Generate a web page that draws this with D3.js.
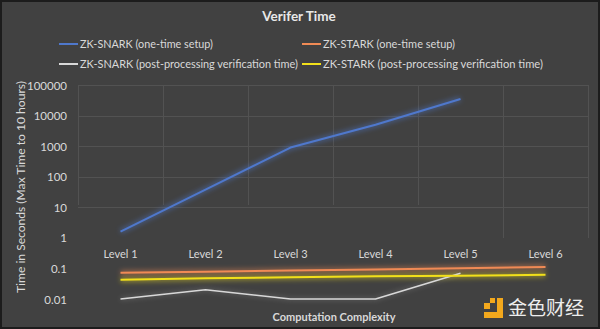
<!DOCTYPE html>
<html><head><meta charset="utf-8">
<script src="https://cdn.jsdelivr.net/npm/d3@7"></script>
<style>body{margin:0;background:#414141;}svg{display:block;}</style>
</head><body>
<script>
const levels = ["Level 1","Level 2","Level 3","Level 4","Level 5","Level 6"];
const snarkSetup = [1.6, 38, 900, 5000, 35000, null];
const starkSetup = [0.072, 0.078, 0.085, 0.093, 0.102, 0.112];
const snarkVerify = [0.01, 0.02, 0.01, 0.01, 0.07, null];
const starkVerify = [0.043, 0.048, 0.051, 0.055, 0.058, 0.062];
const yTicks = [0.01, 0.1, 1, 10, 100, 1000, 10000, 100000];
const seriesNames = ["ZK-SNARK (one-time setup)","ZK-STARK (one-time setup)","ZK-SNARK (post-processing verification time)","ZK-STARK (post-processing verification time)"];
const seriesColors = ["#4f78cc","#f08a55","#d8d8d8","#f2e01a"];
const seriesData = [snarkSetup, starkSetup, snarkVerify, starkVerify];

const W = 600, H = 329;
const svg = d3.select("body").append("svg").attr("width", W).attr("height", H);
const font = "Lato, 'Open Sans', sans-serif";
svg.append("rect").attr("x",1).attr("y",1).attr("width",W-2).attr("height",H-2)
  .attr("fill","#414141").attr("stroke","#1c1c1c").attr("stroke-width",2);

const defs = svg.append("defs");
const glow = defs.append("filter").attr("id","glow").attr("x","-10%").attr("y","-200%").attr("width","120%").attr("height","500%");
glow.append("feGaussianBlur").attr("stdDeviation",2.5);

const x = d3.scaleBand().domain(levels).range([78, 588]);
const y = d3.scaleLog().domain([0.01, 100000]).range([299, 85]);

// gridlines
const grid = svg.append("g").attr("stroke","#5a5a5a").attr("stroke-width",1).attr("opacity",0.7);
grid.selectAll("line.h").data(yTicks.filter(t => t >= 10)).join("line")
  .attr("x1",78).attr("x2",588).attr("y1",d=>Math.round(y(d))+0.5).attr("y2",d=>Math.round(y(d))+0.5);
const bounds = levels.map(l => x(l)).concat([x(levels[levels.length-1]) + x.bandwidth()]);
grid.selectAll("line.v").data(bounds).join("line")
  .attr("x1",d=>Math.round(d)+0.5).attr("x2",d=>Math.round(d)+0.5).attr("y1",85).attr("y2",d=> d>500 ? 238 : 205);

// y axis labels
const yAxis = d3.axisLeft(y).tickValues(yTicks).tickFormat(d => String(d)).tickSize(0).tickPadding(0);
const yg = svg.append("g").attr("transform","translate(67,0)").call(yAxis);
yg.select(".domain").remove();
yg.selectAll("text").attr("fill","#d9d9d9").attr("font-family",font).attr("font-size",11.5).attr("dy","0.35em");

// x axis labels at y=1
const xAxis = d3.axisBottom(x).tickSize(0).tickPadding(0);
const xg = svg.append("g").attr("transform",`translate(0,${y(1)})`).call(xAxis);
xg.select(".domain").remove();
xg.selectAll("text").attr("fill","#d9d9d9").attr("font-family",font).attr("font-size",11).attr("dy","0").attr("y",20);

// lines
const line = d3.line().defined(d => d != null).x((d,i) => x(levels[i]) + x.bandwidth()/2).y(d => y(d));
const order = [2, 3, 1, 0];
order.forEach(i => {
  svg.append("path").datum(seriesData[i]).attr("d", line).attr("fill","none")
    .attr("stroke", seriesColors[i]).attr("stroke-width", i===2 ? 3 : 5).attr("opacity", i===2 ? 0.2 : 0.45).attr("filter","url(#glow)");
});
order.forEach(i => {
  svg.append("path").datum(seriesData[i]).attr("d", line).attr("fill","none")
    .attr("stroke", seriesColors[i]).attr("stroke-width", i===2 ? 1.6 : 2).attr("stroke-linejoin","round");
});

// title
svg.append("text").attr("x",299).attr("y",21).attr("text-anchor","middle").attr("fill","#e8e8e8")
  .attr("font-family",font).attr("font-weight","bold").attr("font-size",13.5).text("Verifer Time");

// legend
const legPos = [[59,44],[302,44],[59,64],[302,64]];
const legWidths = [133, 132, 218, 220];
seriesNames.forEach((n,i) => {
  const [lx, ly] = legPos[i];
  svg.append("line").attr("x1",lx).attr("x2",lx+19).attr("y1",ly).attr("y2",ly).attr("stroke",seriesColors[i]).attr("stroke-width",2);
  svg.append("text").attr("x",lx+21).attr("y",ly).attr("dy","0.35em").attr("fill","#d9d9d9")
    .attr("font-family",font).attr("font-size",11.5)
    .attr("textLength", legWidths[i]).attr("lengthAdjust","spacingAndGlyphs").text(n);
});

// axis titles
svg.append("text").attr("transform","translate(25,187) rotate(-90)").attr("text-anchor","middle").attr("fill","#d9d9d9")
  .attr("font-family",font).attr("font-size",11.5).attr("textLength",212).attr("lengthAdjust","spacingAndGlyphs")
  .text("Time in Seconds (Max Time to 10 hours)");
svg.append("text").attr("x",334).attr("y",321).attr("text-anchor","middle").attr("fill","#d9d9d9")
  .attr("font-family",font).attr("font-weight","bold").attr("font-size",11).text("Computation Complexity");

// watermark
const wm = svg.append("g").attr("fill","#f2a81d");
wm.append("rect").attr("x",484).attr("y",303).attr("width",6).attr("height",6);
wm.append("rect").attr("x",490).attr("y",298).attr("width",5).attr("height",5);
wm.append("rect").attr("x",497).attr("y",298).attr("width",6).attr("height",20);
wm.append("rect").attr("x",484).attr("y",312).attr("width",19).attr("height",6);
svg.append("text").attr("x",508).attr("y",315).attr("fill","#eeeeee").attr("font-family","'Noto Sans CJK SC'")
  .attr("font-size",19).text("金色财经");
</script>
</body></html>
